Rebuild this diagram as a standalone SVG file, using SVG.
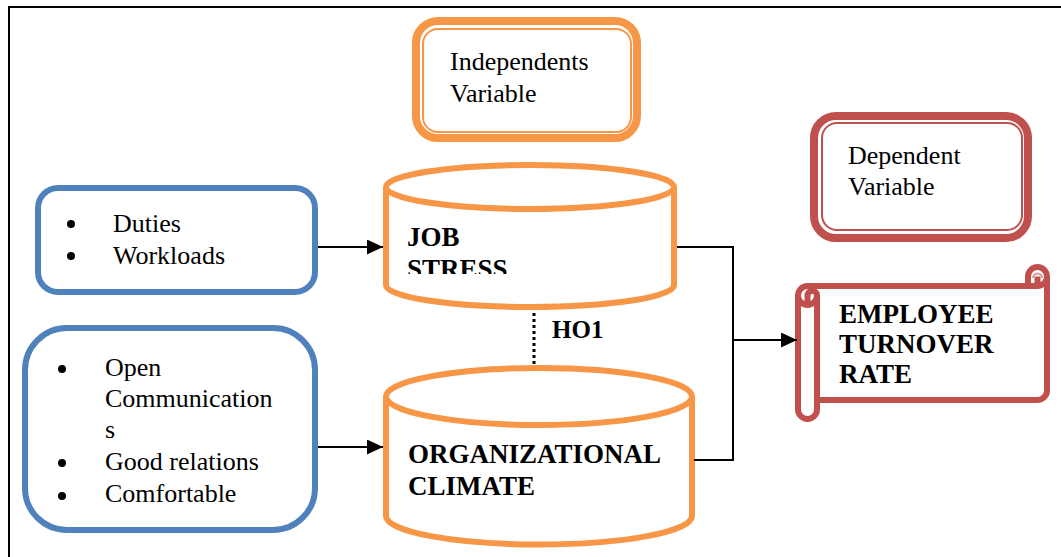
<svg xmlns="http://www.w3.org/2000/svg" width="1061" height="557" viewBox="0 0 1061 557">
<defs>
<style>
.t{font-family:"Liberation Serif","Times New Roman",serif;font-size:26px;fill:#000}
.b{font-weight:bold;font-size:27px}
.orange{fill:#fff;stroke:#F79646;stroke-width:6}
.blue{fill:#fff;stroke:#4F81BD;stroke-width:6}
.red{fill:#fff;stroke:#C0504D;stroke-width:6}
.conn{fill:none;stroke:#000;stroke-width:2}
</style>
<marker id="arr" markerUnits="userSpaceOnUse" markerWidth="16" markerHeight="15" refX="16" refY="7.5" orient="auto">
<path d="M0,0 L16,7.5 L0,15 Z" fill="#000"/>
</marker>
<clipPath id="jsclip"><rect x="390" y="200" width="280" height="74"/></clipPath>
</defs>
<rect width="1061" height="557" fill="#fff"/>
<path d="M9,557 L9,7 L1061,7" fill="none" stroke="#000" stroke-width="2"/>

<g id="independent-label">
<rect x="416" y="21" width="221" height="117" rx="22" fill="#fff" stroke="#F79646" stroke-width="8"/>
<rect x="423" y="29" width="208" height="103" rx="15" fill="none" stroke="#F79646" stroke-width="2"/>
<text class="t" x="450" y="70">Independents</text>
<text class="t" x="450" y="102">Variable</text>
</g>

<g id="dependent-label">
<rect x="814" y="116" width="214" height="122" rx="22" fill="#fff" stroke="#C0504D" stroke-width="8"/>
<rect x="822" y="123" width="200" height="107" rx="15" fill="none" stroke="#C0504D" stroke-width="2"/>
<text class="t" x="848" y="164">Dependent</text>
<text class="t" x="848" y="195">Variable</text>
</g>

<g id="box-duties">
<rect x="38" y="188" width="277" height="104" rx="20" class="blue"/>
<circle cx="71" cy="224" r="4"/>
<circle cx="71" cy="256" r="4"/>
<text class="t" x="113" y="232">Duties</text>
<text class="t" x="113" y="264">Workloads</text>
</g>

<g id="box-climate">
<rect x="25" y="328" width="290" height="202" rx="42" class="blue"/>
<circle cx="62" cy="369" r="4"/>
<circle cx="62" cy="463" r="4"/>
<circle cx="62" cy="496" r="4"/>
<text class="t" x="105" y="376">Open</text>
<text class="t" x="105" y="407">Communication</text>
<text class="t" x="105" y="438">s</text>
<text class="t" x="105" y="470">Good relations</text>
<text class="t" x="105" y="502">Comfortable</text>
</g>

<g id="job-stress">
<path class="orange" d="M386,187 A144,22 0 0 1 674,187 L674,285 A144,22 0 0 1 386,285 Z"/>
<path d="M386,187 A144,22 0 0 0 674,187" fill="none" stroke="#F79646" stroke-width="6"/>
<text class="t b" x="407" y="246">JOB</text>
<text class="t b" x="407" y="278" clip-path="url(#jsclip)">STRESS</text>
</g>

<g id="organizational-climate">
<path class="orange" d="M386,396.5 A153,28.5 0 0 1 692,396.5 L692,516 A153,28.5 0 0 1 386,516 Z"/>
<path d="M386,396.5 A153,28.5 0 0 0 692,396.5" fill="none" stroke="#F79646" stroke-width="6"/>
<text class="t b" x="408" y="463">ORGANIZATIONAL</text>
<text class="t b" x="408" y="495">CLIMATE</text>
</g>

<g id="employee-turnover">
<path class="red" d="M798,295.5 A9.5,9.5 0 0 1 807.5,286 L1028,286 L1028,276.5 A9.5,9.5 0 0 1 1047,276.5 L1047,390.5 A9.5,9.5 0 0 1 1037.5,400 L817,400 L817,409.5 A9.5,9.5 0 0 1 798,409.5 Z"/>
<path d="M1028,286 L1037.5,286 A9.5,9.5 0 0 0 1047,276.5 M1037.5,286 L1037.5,276.5" fill="none" stroke="#C0504D" stroke-width="6"/>
<path d="M1033,278 A4.5,4.5 0 0 1 1042,278" fill="none" stroke="#D99694" stroke-width="2"/>
<path d="M807.5,305 L807.5,295.5 A4.75,4.75 0 0 1 817,295.5 A9.5,9.5 0 0 1 798,295.5 M817,295.5 L817,400" fill="none" stroke="#C0504D" stroke-width="6"/>
<text class="t b" x="839" y="323">EMPLOYEE</text>
<text class="t b" x="839" y="353">TURNOVER</text>
<text class="t b" x="839" y="383">RATE</text>
</g>

<g id="connectors">
<line class="conn" x1="318" y1="247" x2="383" y2="247" marker-end="url(#arr)"/>
<line class="conn" x1="318" y1="447" x2="383" y2="447" marker-end="url(#arr)"/>
<path class="conn" d="M677,247 L733,247 L733,460 L694,460"/>
<line class="conn" x1="733" y1="340" x2="797" y2="340" marker-end="url(#arr)"/>
<line x1="534" y1="313" x2="534" y2="366" stroke="#000" stroke-width="3" stroke-dasharray="3 3"/>
<text class="t b" x="552" y="338" style="font-size:25px">HO1</text>
</g>
</svg>
